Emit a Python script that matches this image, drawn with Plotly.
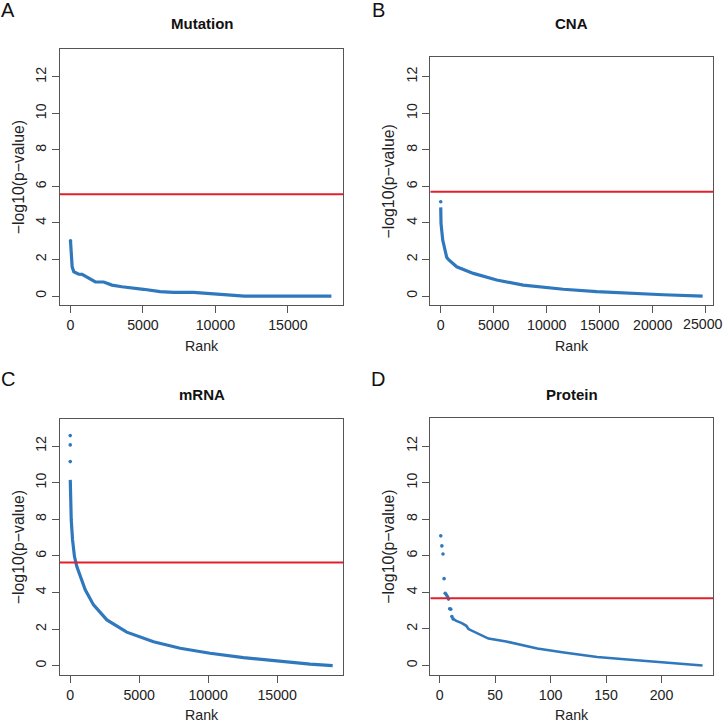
import plotly.graph_objects as go

# ---------------- data ----------------
panel_titles = ["Mutation", "CNA", "mRNA", "Protein"]
panel_letters = ["A", "B", "C", "D"]

mut_rank = [1, 30, 115, 230, 570, 800, 1150, 1720, 2290, 2860, 3550, 4350, 5040, 6180, 7100, 8470, 9850, 11000, 12000, 18000]
mut_val = [3.02, 2.33, 1.6, 1.33, 1.2, 1.19, 1.02, 0.78, 0.77, 0.6, 0.51, 0.45, 0.37, 0.24, 0.2, 0.2, 0.11, 0.05, 0.0, 0.0]
mut_top_rank = [1]
mut_top_val = [3.02]
mut_threshold = 5.58

cna_top_rank = [1]
cna_top_val = [5.16]
cna_rank = [2, 30, 190, 400, 565, 720, 1040, 1510, 3080, 5280, 7790, 11560, 14710, 17850, 20990, 24700]
cna_val = [4.85, 3.98, 3.06, 2.42, 2.12, 2.0, 1.82, 1.6, 1.24, 0.875, 0.6, 0.37, 0.24, 0.15, 0.07, 0.0]
cna_threshold = 5.71

mrna_top_rank = [1, 2, 3]
mrna_top_val = [12.57, 12.06, 11.15]
mrna_rank = [4, 20, 75, 170, 310, 480, 725, 1090, 1690, 2660, 4100, 6040, 7970, 10140, 12560, 14980, 17390, 19030]
mrna_val = [10.15, 9.05, 7.96, 6.87, 5.96, 5.41, 4.86, 4.14, 3.32, 2.5, 1.83, 1.31, 0.95, 0.68, 0.44, 0.24, 0.08, 0.0]
mrna_threshold = 5.63

prot_top_rank = [1, 2, 3, 4, 5, 6, 7, 8, 9, 10, 11, 12]
prot_top_val = [7.09, 6.54, 6.1, 4.75, 3.95, 3.87, 3.77, 3.63, 3.1, 3.08, 2.68, 2.55]
prot_rank = [12, 15, 20, 24, 26, 33, 41, 44, 60, 81, 88, 112, 121, 142, 172, 202, 214, 237]
prot_val = [2.55, 2.44, 2.32, 2.17, 1.99, 1.8, 1.58, 1.47, 1.31, 1.04, 0.93, 0.71, 0.64, 0.46, 0.31, 0.16, 0.08, 0.0]
prot_threshold = 3.68

x_ticks_big = [0, 5000, 10000, 15000]
x_ticks_cna = [0, 5000, 10000, 15000, 20000, 25000]
x_ticks_prot = [0, 50, 100, 150, 200]
y_ticks = [0, 2, 4, 6, 8, 10, 12]

# ---------------- styling / layout ----------------
W = H = 723
FONT = "Liberation Sans, Arial, Helvetica, sans-serif"
BLUE = "#2f78bd"
RED = "#e0202a"
AXC = "#555555"

# plot boxes in pixels: (left, top, right, bottom)
boxes = [(60, 49.3, 343.3, 305), (430.3, 57.3, 713, 305),
         (60, 419.3, 343.3, 675), (430.3, 417.7, 713, 675)]
xranges = [[-723, 18820], [-981, 25680], [-740, 19800], [-8.44, 246.44]]
yranges = [[-0.49, 13.51], [-0.49, 13.06], [-0.51, 13.46], [-0.52, 13.55]]
xtickvals = [x_ticks_big, x_ticks_cna, x_ticks_big, x_ticks_prot]

series = [
    (mut_top_rank, mut_top_val, mut_rank, mut_val, mut_threshold),
    (cna_top_rank, cna_top_val, cna_rank, cna_val, cna_threshold),
    (mrna_top_rank, mrna_top_val, mrna_rank, mrna_val, mrna_threshold),
    (prot_top_rank, prot_top_val, prot_rank, prot_val, prot_threshold),
]

TICK_SIZE = 14.2

fig = go.Figure()
layout = dict(
    width=W, height=H, margin=dict(l=0, r=0, t=0, b=0),
    paper_bgcolor="white", plot_bgcolor="white", showlegend=False,
    font=dict(family=FONT, size=TICK_SIZE, color="#222"),
)
annotations = []

for i in range(4):
    n = "" if i == 0 else str(i + 1)
    xa, ya = "x" + n, "y" + n
    l, t, r, b = boxes[i]
    tr, tv, cr, cv, thr = series[i]
    lw = 2.6 if i == 3 else 3.2
    fig.add_trace(go.Scatter(x=cr, y=cv, mode="lines", line=dict(color=BLUE, width=lw),
                             xaxis=xa, yaxis=ya, hoverinfo="skip"))
    fig.add_trace(go.Scatter(x=tr, y=tv, mode="markers", marker=dict(color=BLUE, size=3.6),
                             xaxis=xa, yaxis=ya, hoverinfo="skip"))
    xr = xranges[i]
    fig.add_trace(go.Scatter(x=xr, y=[thr, thr], mode="lines", line=dict(color=RED, width=2),
                             xaxis=xa, yaxis=ya, hoverinfo="skip"))
    common = dict(showline=True, linecolor=AXC, linewidth=1, mirror=True,
                  ticks="outside", ticklen=7, tickcolor=AXC, tickwidth=1,
                  showgrid=False, zeroline=False,
                  tickfont=dict(family=FONT, size=TICK_SIZE, color="#222"))
    layout["xaxis" + n] = dict(common, domain=[l / W, r / W], range=xr, anchor=ya,
                               tickvals=xtickvals[i], ticktext=[str(v) for v in xtickvals[i]])
    layout["yaxis" + n] = dict(common, domain=[1 - b / H, 1 - t / H], range=yranges[i], anchor=xa,
                               tickvals=y_ticks, ticktext=[str(v) for v in y_ticks], tickangle=-90)
    cx = (l + r) / 2
    cy = (t + b) / 2
    ty = 24 if i < 2 else 394.5
    annotations.append(dict(text="<b>%s</b>" % panel_titles[i], x=cx / W, y=1 - ty / H,
                            xref="paper", yref="paper", showarrow=False, xanchor="center", yanchor="middle",
                            font=dict(family=FONT, size=15, color="#111")))
    rank_off = 41 if i < 2 else 39.5
    annotations.append(dict(text="Rank", x=cx / W, y=1 - (b + rank_off) / H, xref="paper", yref="paper",
                            showarrow=False, xanchor="center", yanchor="middle",
                            font=dict(family=FONT, size=TICK_SIZE, color="#222")))
    annotations.append(dict(text="−log10(p−value)", x=(l - 42) / W, y=1 - cy / H, xref="paper", yref="paper",
                            showarrow=False, xanchor="center", yanchor="middle", textangle=-90,
                            font=dict(family=FONT, size=15.8, color="#222")))
    lx = 8 if i % 2 == 0 else 378
    ly = 10 if i < 2 else 379
    annotations.append(dict(text=panel_letters[i], x=lx / W, y=1 - ly / H, xref="paper", yref="paper",
                            showarrow=False, xanchor="center", yanchor="middle",
                            font=dict(family=FONT, size=20, color="#111")))

# the last CNA tick label sits at the page edge (plotly hides it), so draw it at the edge
annotations.append(dict(text=str(x_ticks_cna[-1]), x=1, y=1 - (boxes[1][3] + 18.5) / H,
                        xref="paper", yref="paper", showarrow=False, xanchor="right", yanchor="middle",
                        xshift=2, font=dict(family=FONT, size=TICK_SIZE, color="#222")))

layout["annotations"] = annotations
fig.update_layout(**layout)

page_js = (
    "document.documentElement.style.margin='0';"
    "document.body.style.margin='0';"
    "document.body.style.overflow='hidden';"
)
fig.write_html("out.html", config={"displayModeBar": False}, post_script=page_js)
